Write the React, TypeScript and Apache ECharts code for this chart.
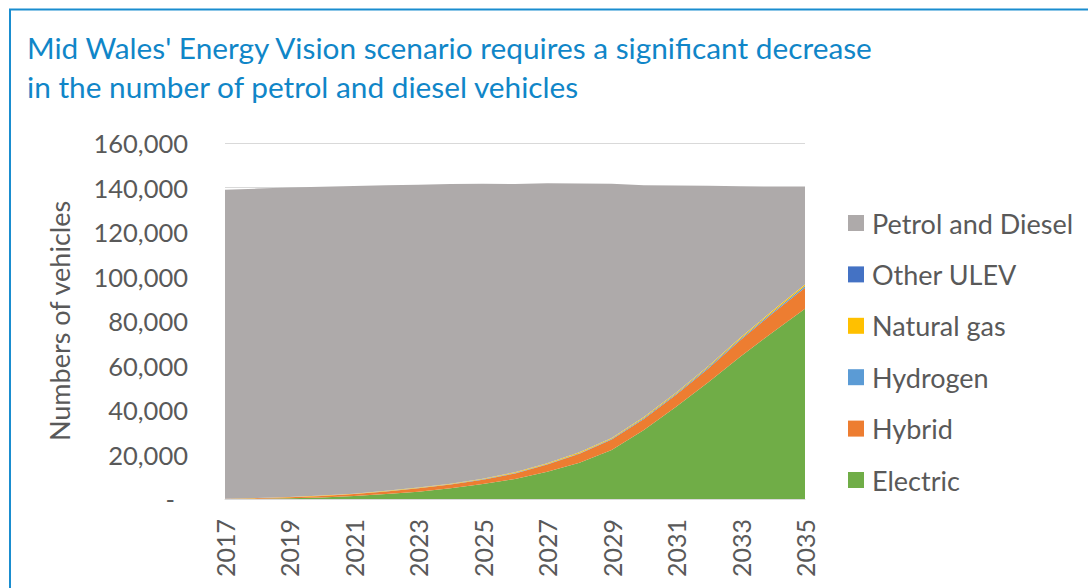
import React, { useEffect, useRef } from "react";
import * as echarts from "echarts";

const years = ["2017","2018","2019","2020","2021","2022","2023","2024","2025","2026","2027","2028","2029","2030","2031","2032","2033","2034","2035"];
const electric = [0, 100, 300, 700, 1300, 2200, 3300, 4800, 6700, 9000, 12300, 16300, 22000, 31000, 41500, 52500, 64000, 75000, 85500];
const hybrid = [100, 300, 500, 700, 900, 1200, 1500, 1700, 2000, 2500, 3200, 4000, 4700, 5000, 5400, 6200, 7500, 8500, 9500];
const hydrogen = [0, 0, 0, 0, 0, 50, 100, 100, 150, 200, 250, 300, 350, 400, 450, 500, 550, 600, 700];
const naturalGas = [50, 100, 150, 200, 200, 250, 250, 300, 300, 350, 350, 400, 400, 450, 450, 500, 550, 600, 650];
const otherUlev = [0, 0, 0, 0, 0, 0, 0, 0, 0, 0, 10, 10, 10, 20, 20, 30, 30, 40, 50];
const petrolDiesel = [138850, 139000, 139050, 138700, 138300, 137300, 136050, 134700, 132550, 129550, 125800, 120800, 114250, 104150, 93100, 81100, 67900, 55700, 44050];

const legendOrder = ["Petrol and Diesel", "Other ULEV", "Natural gas", "Hydrogen", "Hybrid", "Electric"];
const yTicks = { min: 0, max: 160000, interval: 20000 };

const FONT = "Lato";
const GREY_TEXT = "#595959";

export default function App() {
  const ref = useRef<HTMLDivElement>(null);
  useEffect(() => {
    if (!ref.current) return;
    const chart = echarts.init(ref.current, null, { renderer: "svg" });
    const mk = (name: string, data: number[], color: string) => ({
      name,
      type: "line",
      stack: "total",
      data,
      symbol: "none",
      showSymbol: false,
      lineStyle: { width: 0 },
      itemStyle: { color },
      areaStyle: { color, opacity: 1 },
      emphasis: { disabled: true },
    });
    chart.setOption({
      animation: false,
      textStyle: { fontFamily: FONT },
      title: {
        text: "Mid Wales' Energy Vision scenario requires a significant decrease\nin the number of petrol and diesel vehicles",
        left: 27,
        top: 28,
        padding: 0,
        textStyle: { fontFamily: FONT, fontSize: 29.8, fontWeight: "normal", color: "#1086c8", lineHeight: 39 },
      },
      graphic: [
        {
          type: "rect",
          shape: { x: 10, y: 9.5, width: 1200, height: 700 },
          style: { fill: "none", stroke: "#1a8dcf", lineWidth: 2 },
          silent: true,
        },
      ],
      legend: {
        orient: "vertical",
        left: 848,
        top: 209.5,
        padding: 0,
        itemWidth: 16,
        itemHeight: 16,
        itemGap: 24.4,
        icon: "rect",
        data: legendOrder,
        selectedMode: false,
        textStyle: { fontFamily: FONT, fontSize: 27, color: GREY_TEXT, padding: [0, 0, 0, 3] },
      },
      grid: { left: 225, right: 283, top: 143, bottom: 89, containLabel: false },
      xAxis: {
        type: "category",
        boundaryGap: false,
        data: years,
        axisLine: { lineStyle: { color: "#d9d9d9", width: 1 } },
        axisTick: { show: false },
        axisLabel: { interval: 1, rotate: 90, margin: 20, fontSize: 25, color: GREY_TEXT, fontFamily: FONT },
        splitLine: { show: false },
      },
      yAxis: {
        type: "value",
        min: yTicks.min,
        max: yTicks.max,
        interval: yTicks.interval,
        name: "Numbers of vehicles",
        nameLocation: "middle",
        nameGap: 152,
        nameTextStyle: { fontFamily: FONT, fontSize: 27, color: GREY_TEXT },
        axisLine: { show: false },
        axisTick: { show: false },
        axisLabel: {
          margin: 37,
          fontSize: 25.5,
          color: GREY_TEXT,
          fontFamily: FONT,
          formatter: (v: number) => (v === 0 ? "{d|-}" : v.toLocaleString("en-US")),
          rich: { d: { fontSize: 25.5, color: GREY_TEXT, fontFamily: FONT, padding: [0, 13, 0, 0] } },
        },
        splitLine: { lineStyle: { color: "#d9d9d9", width: 1 } },
      },
      series: [
        mk("Electric", electric, "#70ad47"),
        mk("Hybrid", hybrid, "#ed7d31"),
        mk("Hydrogen", hydrogen, "#5b9bd5"),
        mk("Natural gas", naturalGas, "#ffc000"),
        mk("Other ULEV", otherUlev, "#4472c4"),
        mk("Petrol and Diesel", petrolDiesel, "#aeaaaa"),
      ],
    });
    return () => chart.dispose();
  }, []);
  return <div ref={ref} style={{ position: "absolute", left: 0, top: 0, width: 1088, height: 588 }} />;
}
